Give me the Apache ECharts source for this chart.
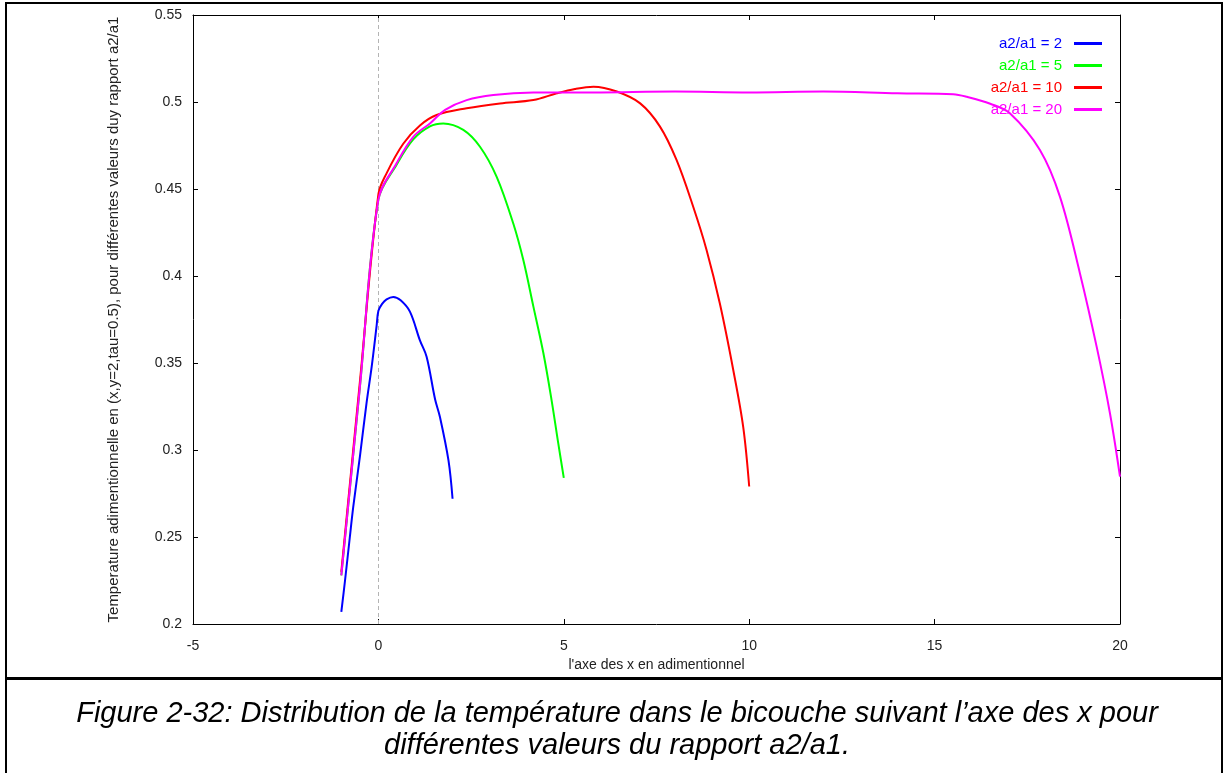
<!DOCTYPE html>
<html>
<head>
<meta charset="utf-8">
<script src="https://cdn.jsdelivr.net/npm/echarts@6/dist/echarts.min.js"></script>
<style>
html,body{margin:0;padding:0;background:#fff;}
#chart{width:1227px;height:773px;}
</style>
</head>
<body>
<div id="chart"></div>
<script>
// ---- data ----
const xTicks = [-5, 0, 5, 10, 15, 20];
const yTicks = [0.2, 0.25, 0.3, 0.35, 0.4, 0.45, 0.5, 0.55];

const seriesNames = ['a2/a1 = 2', 'a2/a1 = 5', 'a2/a1 = 10', 'a2/a1 = 20'];
const seriesColors = ['#0000ff', '#00ff00', '#ff0000', '#ff00ff'];

const x2 = [-1.0, -0.9, -0.77, -0.68, -0.5, -0.32, -0.18, -0.05, 0.0, 0.1, 0.22, 0.4, 0.6, 0.85, 1.12, 1.3, 1.53, 1.66, 1.89, 2.0];
const y2 = [0.207, 0.225, 0.25, 0.267, 0.296, 0.327, 0.348, 0.371, 0.380, 0.384, 0.3866, 0.388, 0.386, 0.3795, 0.363, 0.3536, 0.329, 0.319, 0.294, 0.272];

const x5 = [-1.0, -0.5, 0.0, 0.49, 0.94, 1.39, 1.75, 2.29, 2.74, 3.19, 3.64, 3.91, 4.18, 4.45, 4.67, 4.85, 5.0];
const y5 = [0.228, 0.336, 0.444, 0.464, 0.4785, 0.486, 0.4877, 0.484, 0.4743, 0.457, 0.430, 0.409, 0.3824, 0.3556, 0.3287, 0.3039, 0.284];

const x10 = [-1.0, -0.5, 0.0, 0.22, 0.67, 1.12, 1.57, 2.38, 3.28, 4.18, 4.81, 5.3, 5.8, 6.43, 7.06, 7.59, 8.04, 8.49, 8.85, 9.21, 9.57, 9.84, 10.0];
const y10 = [0.230, 0.339, 0.447, 0.459, 0.476, 0.4865, 0.4925, 0.4964, 0.4992, 0.5011, 0.505, 0.5075, 0.5088, 0.506, 0.4992, 0.486, 0.4667, 0.4398, 0.415, 0.384, 0.346, 0.313, 0.279];

const x20 = [-1.0, -0.5, 0.0, 0.49, 0.94, 1.39, 1.8, 2.38, 3.1, 4.18, 6.0, 8.0, 10.0, 12.0, 14.0, 15.5, 15.87, 16.5, 17.03, 17.84, 18.38, 18.92, 19.37, 19.73, 20.0];
const y20 = [0.228, 0.336, 0.444, 0.4648, 0.480, 0.4877, 0.4955, 0.5011, 0.504, 0.5054, 0.5055, 0.506, 0.5055, 0.506, 0.505, 0.5045, 0.503, 0.499, 0.4935, 0.4724, 0.4456, 0.4015, 0.3594, 0.321, 0.2847];

const xName = "l'axe des x en adimentionnel";
const yName = "Temperature adimentionnelle en (x,y=2,tau=0.5), pour différentes valeurs duy rapport a2/a1";
const captionLines = [
  "Figure 2-32: Distribution de la température dans le bicouche suivant l’axe des x pour",
  "différentes valeurs du rapport a2/a1."
];

// ---- build ----
const allX = [x2, x5, x10, x20];
const allY = [y2, y5, y10, y20];
const pairs = (xs, ys) => xs.map((v, i) => [v, ys[i]]);

const chart = echarts.init(document.getElementById('chart'), null, {renderer: 'canvas'});
const FONT = 'Liberation Sans, Arial, sans-serif';

const series = seriesNames.map((n, i) => ({
  name: n,
  type: 'line',
  data: pairs(allX[i], allY[i]),
  smooth: 0.35,
  showSymbol: false,
  symbol: 'none',
  lineStyle: {color: seriesColors[i], width: 2},
  itemStyle: {color: seriesColors[i]},
  z: 3 + i,
  markLine: i === 0 ? {
    silent: true,
    symbol: ['none', 'none'],
    label: {show: false},
    lineStyle: {color: '#b4b4b4', type: [4, 3], width: 1},
    data: [{xAxis: 0}],
    z: 1
  } : undefined
}));

const axisCommon = {
  type: 'value',
  axisLine: {show: true, onZero: false, lineStyle: {color: '#000', width: 1}},
  axisTick: {show: true, inside: true, length: 5, lineStyle: {color: '#000'}},
  splitLine: {show: false}
};

chart.setOption({
  animation: false,
  backgroundColor: '#fff',
  grid: {left: 193, right: 107, top: 15, bottom: 149, containLabel: false},
  legend: {
    orient: 'vertical',
    right: 120,
    top: 31,
    align: 'right',
    itemWidth: 28,
    itemHeight: 3,
    itemGap: 7,
    icon: 'rect',
    data: seriesNames.map((n, i) => ({name: n, textStyle: {color: seriesColors[i]}})),
    textStyle: {fontFamily: FONT, fontSize: 15, padding: [0, 7, 0, 0]}
  },
  xAxis: [
    Object.assign({}, axisCommon, {
      min: -5, max: 20, interval: 5, position: 'bottom',
      name: xName, nameLocation: 'middle', nameGap: 31,
      nameTextStyle: {fontFamily: FONT, fontSize: 14, color: '#222'},
      axisLabel: {fontFamily: FONT, fontSize: 14, color: '#222', margin: 15}
    }),
    Object.assign({}, axisCommon, {
      min: -5, max: 20, interval: 5, position: 'top',
      axisLabel: {show: false}
    })
  ],
  yAxis: [
    Object.assign({}, axisCommon, {
      min: 0.2, max: 0.55, interval: 0.05, position: 'left',
      name: yName, nameLocation: 'middle', nameGap: 72,
      nameTextStyle: {fontFamily: FONT, fontSize: 15, color: '#222'},
      axisLabel: {fontFamily: FONT, fontSize: 14, color: '#222', margin: 11,
        formatter: v => String(+v.toFixed(2))}
    }),
    Object.assign({}, axisCommon, {
      min: 0.2, max: 0.55, interval: 0.05, position: 'right',
      axisLabel: {show: false}
    })
  ],
  series: series,
  graphic: [
    {type: 'rect', shape: {x: 6, y: 3, width: 1216, height: 780}, style: {fill: 'none', stroke: '#000', lineWidth: 2}, silent: true},
    {type: 'rect', shape: {x: 6, y: 677, width: 1216, height: 3}, style: {fill: '#000'}, silent: true},
    {type: 'text', x: 617, y: 714, style: {text: captionLines[0], fontFamily: FONT, fontStyle: 'italic', fontSize: 29, fill: '#000', align: 'center', verticalAlign: 'middle'}, silent: true},
    {type: 'text', x: 617, y: 746, style: {text: captionLines[1], fontFamily: FONT, fontStyle: 'italic', fontSize: 29, fill: '#000', align: 'center', verticalAlign: 'middle'}, silent: true}
  ]
});
</script>
</body>
</html>
